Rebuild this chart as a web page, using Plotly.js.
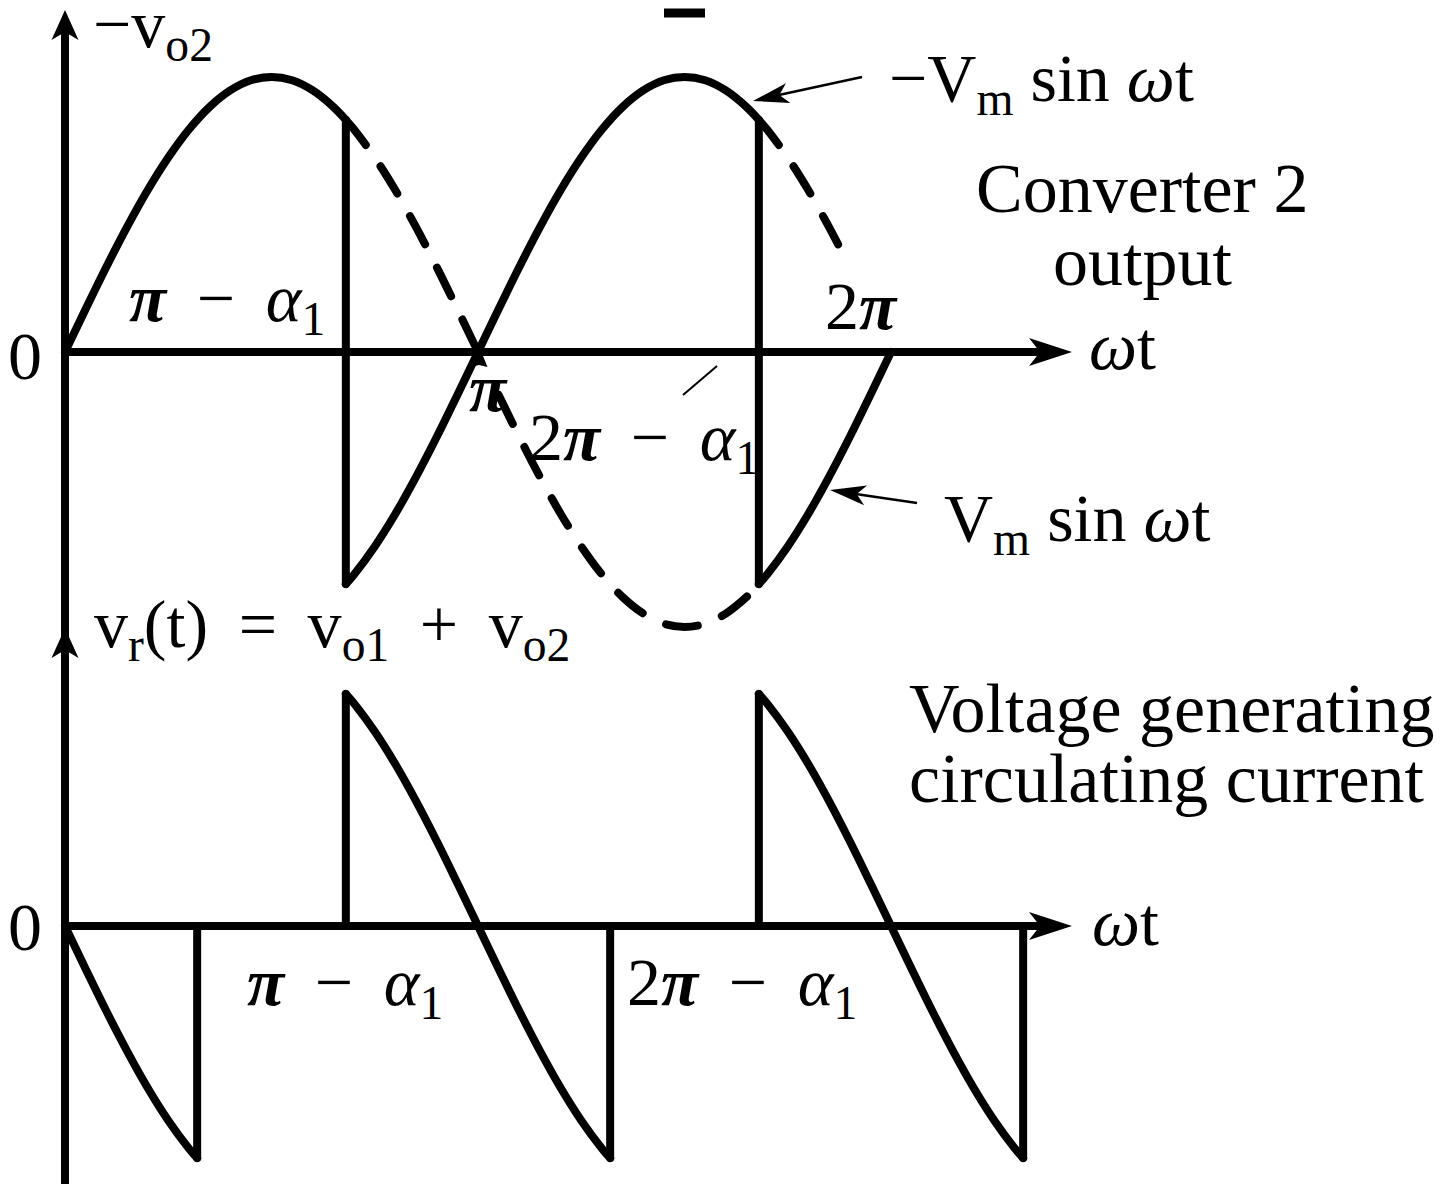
<!DOCTYPE html>
<html>
<head>
<meta charset="utf-8">
<script src="https://cdn.plot.ly/plotly-3.0.1.min.js"></script>
<style>
  html, body { margin: 0; padding: 0; background: #fff; }
  path.js-line { stroke-linejoin: round; stroke-linecap: round; }
</style>
</head>
<body>
<div id="chart" style="width:1447px;height:1184px"></div>
<script>
// ωt is given in units of π, voltages in units of Vm.

// Converter 2 output (-vo2): solid path, including the switching edges at π-α1 and 2π-α1
const topSolidX = [0, 0.05, 0.1, 0.15, 0.2, 0.25, 0.3, 0.35, 0.4, 0.45, 0.5, 0.55, 0.6, 0.65, 0.68,
                   0.68, 0.7, 0.75, 0.8, 0.85, 0.9, 0.95, 1.0, 1.05, 1.1, 1.15, 1.2, 1.25, 1.3, 1.35,
                   1.4, 1.45, 1.5, 1.55, 1.6, 1.65, 1.68,
                   1.68, 1.7, 1.75, 1.8, 1.85, 1.9, 1.95, 2.0];
const topSolidY = [0, 0.156, 0.309, 0.454, 0.588, 0.707, 0.809, 0.891, 0.951, 0.988, 1, 0.988, 0.951, 0.891, 0.844,
                   -0.844, -0.809, -0.707, -0.588, -0.454, -0.309, -0.156, 0, 0.156, 0.309, 0.454, 0.588, 0.707, 0.809, 0.891,
                   0.951, 0.988, 1, 0.988, 0.951, 0.891, 0.844,
                   -0.844, -0.809, -0.707, -0.588, -0.454, -0.309, -0.156, 0];

// Dashed continuations of -Vm sin ωt and Vm sin ωt
const dashA1X = [0.68, 0.7, 0.75, 0.8, 0.85, 0.9, 0.95, 1.0];
const dashA1Y = [0.844, 0.809, 0.707, 0.588, 0.454, 0.309, 0.156, 0];
const dashBX = [1.05, 1.1, 1.15, 1.2, 1.25, 1.3, 1.35, 1.4, 1.45, 1.5, 1.55, 1.6, 1.65, 1.68];
const dashBY = [-0.156, -0.309, -0.454, -0.588, -0.707, -0.809, -0.891, -0.951, -0.988, -1, -0.988, -0.951, -0.891, -0.844];
const dashA2X = [1.68, 1.7, 1.75, 1.8, 1.85, 1.9];
const dashA2Y = [0.844, 0.809, 0.707, 0.588, 0.454, 0.309];

// vr(t) = vo1 + vo2
const vrX = [0, 0.05, 0.1, 0.15, 0.2, 0.25, 0.3, 0.32, 0.32, 0.68,
             0.68, 0.7, 0.75, 0.8, 0.85, 0.9, 0.95, 1.0, 1.05, 1.1, 1.15, 1.2, 1.25, 1.3, 1.32, 1.32, 1.68,
             1.68, 1.7, 1.75, 1.8, 1.85, 1.9, 1.95, 2.0, 2.05, 2.1, 2.15, 2.2, 2.25, 2.3, 2.32, 2.32];
const vrY = [0, -0.156, -0.309, -0.454, -0.588, -0.707, -0.809, -0.844, 0, 0,
             0.844, 0.809, 0.707, 0.588, 0.454, 0.309, 0.156, 0, -0.156, -0.309, -0.454, -0.588, -0.707, -0.809, -0.844, 0, 0,
             0.844, 0.809, 0.707, 0.588, 0.454, 0.309, 0.156, 0, -0.156, -0.309, -0.454, -0.588, -0.707, -0.809, -0.844, 0];

// ---- geometry of the drawing ----
const W = 1447, H = 1184;
const X0 = 65, PX_PER_PI = 413;
const ZERO_TOP = 352, ZERO_BOT = 926, AMP = 275;
const LW = 8;
const FONT = 'Liberation Serif, Times New Roman, serif';
const FS = 68;       // formula labels
const FS_WORDS = 70; // descriptive labels
const DASH = '32px,26px';

const px = p => p / W;            // pixel -> paper x
const py = p => 1 - p / H;        // pixel -> paper y
const dx = p => (p - X0) / PX_PER_PI;  // pixel -> data x

// Split a waveform at its vertical switching edges so the curved runs can be
// smoothed while the edges stay perfectly straight.
function splitEdges(xs, ys) {
  const X = [], Y = [];
  let start = 0;
  for (let i = 1; i <= xs.length; i++) {
    if (i === xs.length || xs[i] === xs[i - 1]) {
      for (let k = start; k < i; k++) { X.push(xs[k]); Y.push(ys[k]); }
      X.push(null); Y.push(null);
      if (i < xs.length) { X.push(xs[i - 1], xs[i], null); Y.push(ys[i - 1], ys[i], null); }
      start = i;
    }
  }
  return [X, Y];
}

function line(xy, yaxis, dash) {
  return {
    type: 'scatter', mode: 'lines', x: xy[0], y: xy[1], yaxis: yaxis, xaxis: 'x',
    line: { color: '#000', width: LW, dash: dash || 'solid', shape: 'spline', smoothing: 1 },
    connectgaps: false, hoverinfo: 'skip', cliponaxis: false
  };
}

const traces = [
  line(splitEdges(topSolidX, topSolidY), 'y'),
  line([dashA1X, dashA1Y], 'y', DASH),
  line([dashBX, dashBY], 'y', DASH),
  line([dashA2X, dashA2Y], 'y', DASH),
  line(splitEdges(vrX, vrY), 'y2')
];

// filled stealth arrowhead; tip in pixels, direction (ux, uy) in screen pixels
function head(tx, ty, ux, uy, len, wid, notch) {
  const n = Math.hypot(ux, uy); ux /= n; uy /= n;
  const nx = -uy, ny = ux;
  const bx = tx - len * ux, by = ty - len * uy;
  const pts = [
    [tx, ty],
    [bx + nx * wid / 2, by + ny * wid / 2],
    [tx - (len - notch) * ux, ty - (len - notch) * uy],
    [bx - nx * wid / 2, by - ny * wid / 2]
  ];
  const d = pts.map((p, i) => (i ? 'L' : 'M') + px(p[0]).toFixed(5) + ',' + py(p[1]).toFixed(5)).join(' ') + ' Z';
  return { type: 'path', xref: 'paper', yref: 'paper', path: d, fillcolor: '#000', line: { width: 0 }, layer: 'above' };
}

function seg(x0, y0, x1, y1, w) {
  return { type: 'line', xref: 'paper', yref: 'paper', x0: px(x0), y0: py(y0), x1: px(x1), y1: py(y1),
           line: { color: '#000', width: w }, layer: 'above' };
}

const shapes = [
  // ωt axes
  { type: 'line', xref: 'x', yref: 'y', x0: dx(X0 - 4), x1: dx(1045), y0: 0, y1: 0, line: { color: '#000', width: LW } },
  { type: 'line', xref: 'x', yref: 'y2', x0: dx(X0 - 4), x1: dx(1045), y0: 0, y1: 0, line: { color: '#000', width: LW } },
  // shared vertical axis
  { type: 'line', xref: 'x', yref: 'paper', x0: 0, x1: 0, y0: 0, y1: py(30), line: { color: '#000', width: LW } },
  head(1072, ZERO_TOP, 1, 0, 43, 28, 11),
  head(1072, ZERO_BOT, 1, 0, 43, 28, 11),
  head(X0, 10, 0, -1, 30, 27, 8),
  head(X0, 628, 0, -1, 30, 27, 8),
  // small mark where the waveform crosses π
  head(479, 346, 0, -1, 21, 17, 2),
  // pointers to the two sine labels
  seg(862, 77, 765, 98, 2.5),
  head(753, 101, -107, 24, 36, 20, 9),
  seg(917, 503, 842, 492, 2.5),
  head(830, 490, -87, -13, 36, 20, 9),
  // leader for 2π − α1
  seg(683, 395, 717, 366, 2),
  // short bar at the top edge
  { type: 'line', xref: 'paper', yref: 'paper', x0: px(664), x1: px(705), y0: py(13), y1: py(13),
    line: { color: '#000', width: 9 }, layer: 'above' }
];

function label(text, x, y, anchor, size) {
  return { text: text, xref: 'paper', yref: 'paper', x: px(x), y: py(y), xanchor: anchor || 'left', yanchor: 'middle',
           showarrow: false, font: { family: FONT, size: size || FS, color: '#000' }, borderpad: 0 };
}

const pi = '<b><i>π</i></b>', al = '<i>α</i><sub>1</sub>', wt = '<i>ω</i>t';
const sp = '\u00a0\u2009';
const annotations = [
  label('\u2212v<sub>o2</sub>', 92, 28),
  label('0', 25, 356, 'center'),
  label('0', 25, 927, 'center'),
  label(wt, 1088, 346),
  label(wt, 1091, 922),
  label('\u2212V<sub>m</sub> sin ' + wt, 888, 82),
  label('Converter 2', 1142, 188, 'center', FS_WORDS),
  label('output', 1142, 261, 'center', FS_WORDS),
  label('2' + pi, 824, 306),
  label(pi + sp + '\u2212' + sp + al, 128, 302),
  label(pi, 468, 388),
  label('2' + pi + sp + '\u2212' + sp + al, 528, 442),
  label('V<sub>m</sub> sin ' + wt, 943, 522),
  label('v<sub>r</sub>(t)\u2009 = \u2009v<sub>o1</sub>\u2009 + \u2009v<sub>o2</sub>', 93, 628),
  label('Voltage generating', 908, 708, 'left', FS_WORDS),
  label('circulating current', 908, 778, 'left', FS_WORDS),
  label(pi + sp + '\u2212' + sp + al, 246, 986),
  label('2' + pi + sp + '\u2212' + sp + al, 626, 986)
];

const layout = {
  width: W, height: H,
  margin: { l: 0, r: 0, t: 0, b: 0, pad: 0 },
  paper_bgcolor: '#fff', plot_bgcolor: '#fff',
  showlegend: false,
  xaxis: { range: [dx(0), dx(W)], visible: false, fixedrange: true },
  yaxis: { range: [(ZERO_TOP - H) / AMP, ZERO_TOP / AMP], visible: false, fixedrange: true, domain: [0, 1] },
  yaxis2: { range: [(ZERO_BOT - H) / AMP, ZERO_BOT / AMP], visible: false, fixedrange: true, overlaying: 'y' },
  shapes: shapes,
  annotations: annotations
};

Plotly.newPlot('chart', traces, layout, { displayModeBar: false, staticPlot: true });
</script>
</body>
</html>
